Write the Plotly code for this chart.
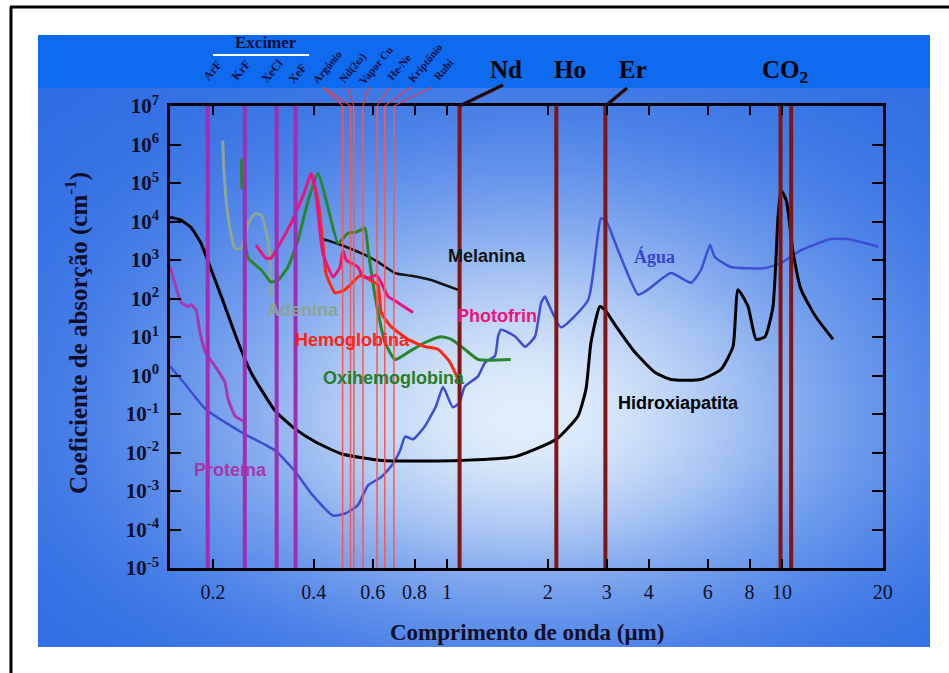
import base64, struct, zlib
import numpy as np
import plotly.graph_objects as go

# ---------------- data ----------------
agua_x = [0.147, 0.161, 0.190, 0.249, 0.307, 0.352, 0.393, 0.457, 0.497, 0.542, 0.581, 0.636,
          0.690, 0.724, 0.750, 0.792, 0.860, 0.927, 0.973, 1.04, 1.09, 1.13, 1.237, 1.30, 1.39,
          1.42, 1.45, 1.60, 1.71, 1.83, 1.91, 1.96, 2.00, 2.19, 2.64, 2.88, 2.98, 3.24, 3.72,
          3.98, 4.66, 5.35, 5.73, 6.10, 6.3, 7.04, 8.90, 9.93, 11.4, 14.0, 15.7, 19.4]
agua_y = [1.95, 0.79, 0.135, 0.030, 0.0112, 0.0032, 8.7e-4, 2.3e-4, 2.6e-4, 4.3e-4, 1.4e-3, 2.3e-3,
          5.1e-3, 0.0112, 0.026, 0.022, 0.049, 0.16, 0.50, 0.15, 0.20, 0.52, 0.95, 2.2, 3.2,
          10.2, 15.5, 10.2, 5.6, 10.2, 78, 112, 78, 17.8, 93, 1.2e4, 1.07e4, 1.8e3, 126,
          170, 457, 257, 550, 2.45e3, 1.2e3, 660, 617, 832, 1.8e3, 3.5e3, 3.5e3, 2.2e3]

hidrox_x = [0.149, 0.160, 0.172, 0.184, 0.190, 0.212, 0.238, 0.260, 0.307, 0.352, 0.404, 0.483,
            0.636, 1.09, 1.60, 2.12, 2.46, 2.60, 2.69, 2.86, 2.96, 3.17, 3.64, 4.18, 4.66, 5.73,
            6.58, 7.14, 7.39, 7.92, 8.37, 8.90, 9.40, 9.73, 9.93, 10.3, 10.8, 11.4, 12.6, 14.2]
hidrox_y = [1.29e4, 1.1e4, 7.0e3, 2.8e3, 1.4e3, 112, 7.2, 1.2, 0.12, 0.041, 0.019, 9.3e-3,
            6.2e-3, 6.2e-3, 7.8e-3, 0.022, 0.089, 0.45, 7.2, 62, 51, 21, 4.0, 1.2, 0.79, 0.79,
            1.45, 5.6, 170, 62, 8.7, 10.2, 62, 1.29e4, 6.5e4, 3.5e4, 1.5e3, 170, 34, 8.7]

melanina_x = [0.426, 0.483, 0.569, 0.622, 0.700, 0.781, 0.896, 0.986, 1.10]
melanina_y = [3.5e3, 2.45e3, 1.35e3, 890, 457, 389, 302, 224, 158]

photofrin_x = [0.269, 0.288, 0.298, 0.313, 0.342, 0.377, 0.393, 0.404, 0.418, 0.426, 0.457, 0.479,
               0.489, 0.500, 0.517, 0.542, 0.561, 0.589, 0.614, 0.636, 0.667, 0.714, 0.792]
photofrin_y = [2.45e3, 1.12e3, 1.12e3, 2.2e3, 8.9e3, 6.5e4, 1.8e5, 7.6e4, 5.0e3, 1.5e3, 363, 660,
               1.8e3, 1.0e3, 832, 660, 363, 347, 407, 257, 112, 78, 43]

hemo_x = [0.393, 0.412, 0.426, 0.435, 0.463, 0.496, 0.554, 0.589, 0.622, 0.636, 0.681, 0.765,
          0.860, 0.940, 1.02, 1.08]
hemo_y = [1.8e5, 3.5e4, 2.75e3, 457, 141, 170, 407, 302, 224, 43, 18.6, 8.7, 5.6, 4.8, 2.2, 0.79]

oxi_x = [0.243, 0.244, None, 0.249, 0.255, 0.279, 0.298, 0.313, 0.335, 0.359, 0.385, 0.412, 0.441,
         0.473, 0.506, 0.531, 0.550, 0.569, 0.581, 0.610, 0.653, 0.700, 0.765, 0.860, 0.959,
         1.03, 1.13, 1.24, 1.55]
oxi_y = [4.3e5, 7.0e4, None, 3.3e3, 1.12e3, 550, 269, 302, 660, 3.3e3, 3.5e4, 1.8e5, 2.3e4,
         2.75e3, 5.0e3, 5.2e3, 5.9e3, 6.8e3, 1.8e3, 112, 7.2, 2.6, 4.0, 7.2, 10.2, 8.7, 4.8,
         2.6, 2.6]

adenina_x = [0.214, 0.216, 0.222, 0.233, 0.243, 0.255, 0.267, 0.279, 0.288, 0.296, 0.298, 0.298]
adenina_y = [1.26e6, 1.8e5, 1.29e4, 2.0e3, 2.0e3, 8.9e3, 1.6e4, 1.45e4, 5.9e3, 1.2e3, 257, 110]

proteina_x = [0.149, 0.152, 0.161, 0.169, 0.172, 0.178, 0.183, 0.190, 0.203, 0.217, 0.222, 0.233, 0.246]
proteina_y = [660, 363, 78, 62, 69, 51, 13.2, 4.0, 1.74, 0.68, 0.245, 0.089, 0.066]

excimer_wl = [0.193, 0.249, 0.310, 0.353]
excimer_names = ["ArF", "KrF", "XeCl", "XeF"]
visible_wl = [0.488, 0.515, 0.527, 0.561, 0.618, 0.652, 0.694]
visible_names = ["Argônio", "Nd(2ω)", "Vapor Cu", "He-Ne", "Kriptônio", "Rubi"]
ir_wl = [1.09, 2.12, 2.97, 9.9, 10.65]

x_tickvals = [0.2, 0.4, 0.6, 0.8, 1, 2, 3, 4, 6, 8, 10, 20]
x_ticktext = ["0.2", "0.4", "0.6", "0.8", "1", "2", "3", "4", "6", "8", "10", "20"]
y_exponents = list(range(-5, 8))

# ---------------- geometry helpers ----------------
W, H = 949, 673
L, R, T, B = 170, 66, 106, 105
PW, PH = W - L - R, H - T - B
XMIN, XMAX = -0.827, 1.3015


def px(xp):
    return (xp - L) / PW


def py(yp):
    return (H - B - yp) / PH


def wl2paper(w):
    return (np.log10(w) - XMIN) / (XMAX - XMIN)


# ---------------- background gradient image ----------------
def png_uri(arr):
    h, w, _ = arr.shape
    raw = b"".join(b"\x00" + arr[i].tobytes() for i in range(h))

    def chunk(t, d):
        c = struct.pack(">I", len(d)) + t + d
        return c + struct.pack(">I", zlib.crc32(t + d) & 0xFFFFFFFF)

    data = (b"\x89PNG\r\n\x1a\n" + chunk(b"IHDR", struct.pack(">IIBBBBB", w, h, 8, 2, 0, 0, 0))
            + chunk(b"IDAT", zlib.compress(raw, 9)) + chunk(b"IEND", b""))
    return "data:image/png;base64," + base64.b64encode(data).decode()


PX0, PY0, PX1, PY1 = 38, 35, 930, 647
GW, GH = 223, 153
gxs = PX0 + (np.arange(GW) + 0.5) * (PX1 - PX0) / GW
gys = PY0 + (np.arange(GH) + 0.5) * (PY1 - PY0) / GH
gx, gy = np.meshgrid(gxs, gys)
sy = np.where(gy < 420, 230, 185)
f = np.exp(-(((gx - 525) / 330) ** 2 + ((gy - 420) / sy) ** 2))
edge = np.array([45, 108, 228], dtype=float)
light = np.array([225, 238, 251], dtype=float)
img = (edge + (light - edge) * f[..., None]).clip(0, 255).astype(np.uint8)
bg_uri = png_uri(img)

# ---------------- figure ----------------
fig = go.Figure()

curves = [
    (agua_x, agua_y, "rgb(62,78,212)", 2.5),
    (hidrox_x, hidrox_y, "black", 3),
    (melanina_x, melanina_y, "rgb(20,20,20)", 2.5),
    (adenina_x, adenina_y, "rgb(140,165,150)", 3),
    (proteina_x, proteina_y, "rgb(170,55,175)", 3),
    (oxi_x, oxi_y, "rgb(40,135,45)", 3),
    (hemo_x, hemo_y, "rgb(255,40,20)", 3),
    (photofrin_x, photofrin_y, "rgb(235,20,120)", 3),
]
for xs_, ys_, col, wdt in curves:
    fig.add_trace(go.Scatter(x=xs_, y=ys_, mode="lines", connectgaps=False,
                             line=dict(color=col, width=wdt, shape="spline", smoothing=0.5),
                             hoverinfo="skip"))

for w in excimer_wl:
    fig.add_trace(go.Scatter(x=[w, w], y=[1e-5, 1e7], mode="lines",
                             line=dict(color="rgb(160,45,180)", width=4), hoverinfo="skip"))
for w in visible_wl:
    fig.add_trace(go.Scatter(x=[w, w], y=[1e-5, 1e7], mode="lines",
                             line=dict(color="rgb(255,85,80)", width=1.5), hoverinfo="skip"))
for w in ir_wl:
    fig.add_trace(go.Scatter(x=[w, w], y=[1e-5, 1e7], mode="lines",
                             line=dict(color="rgb(130,20,20)", width=4), hoverinfo="skip"))

shapes = []
# top band
shapes.append(dict(type="rect", xref="paper", yref="paper", x0=px(PX0), x1=px(PX1),
                   y0=py(88), y1=py(PY0), fillcolor="rgb(14,106,238)", line=dict(width=0),
                   layer="below"))
# outer frame
shapes.append(dict(type="line", xref="paper", yref="paper", x0=px(10), x1=px(949),
                   y0=py(7), y1=py(7), line=dict(color="black", width=3)))
shapes.append(dict(type="line", xref="paper", yref="paper", x0=px(11), x1=px(11),
                   y0=py(7), y1=py(673), line=dict(color="black", width=3)))
# Excimer underline
shapes.append(dict(type="line", xref="paper", yref="paper", x0=px(213), x1=px(309),
                   y0=py(55), y1=py(55), line=dict(color="white", width=2)))
# connectors from visible laser labels
vis_label_ends = [323, 323, 347, 369, 390, 411, 432]
for w, xe in zip(visible_wl, vis_label_ends):
    shapes.append(dict(type="line", xref="paper", yref="paper", x0=wl2paper(w), y0=1,
                       x1=px(xe), y1=py(87), line=dict(color="rgb(230,60,70)", width=1.2)))
# Nd and Er connectors
shapes.append(dict(type="line", xref="paper", yref="paper", x0=wl2paper(ir_wl[0]), y0=1,
                   x1=px(503), y1=py(85), line=dict(color="rgb(40,10,10)", width=3.5)))
shapes.append(dict(type="line", xref="paper", yref="paper", x0=wl2paper(ir_wl[2]), y0=1,
                   x1=px(627), y1=py(88), line=dict(color="rgb(40,10,10)", width=3.5)))

ann = []
SERIF = "Liberation Serif"
SANS = "Liberation Sans"
navy = "rgb(15,15,60)"


def label(x, y, text, size, color, family, weight="bold", angle=0):
    ann.append(dict(x=px(x), y=py(y), xref="paper", yref="paper", text=text, showarrow=False,
                    textangle=angle, xanchor="center", yanchor="middle",
                    font=dict(family=family, size=size, color=color, weight=weight)))


label(266, 43, "Excimer", 17, navy, SERIF)
for (xx, yy), t in zip([(212, 71), (241, 70), (272, 71), (297, 74)], excimer_names):
    label(xx, yy, t, 12, navy, SERIF, angle=-50)
for (xx, yy), t in zip([(327, 67), (352, 68), (376, 65), (399, 67), (425, 63), (443, 70)],
                       visible_names):
    label(xx, yy, t, 11, navy, SERIF, angle=-50)
label(506, 70, "Nd", 25, "black", SERIF)
label(570, 70, "Ho", 25, "black", SERIF)
label(633, 70, "Er", 25, "black", SERIF)
label(785, 72, "CO<sub>2</sub>", 25, "black", SERIF)

label(487, 256, "Melanina", 18, "rgb(20,20,20)", SANS)
label(654, 256, "Água", 18, "rgb(55,70,200)", SERIF)
label(497, 316, "Photofrin", 18, "rgb(235,20,120)", SANS)
label(303, 310, "Adenina", 18, "rgb(140,165,150)", SANS)
label(352, 340, "Hemoglobina", 18, "rgb(255,35,20)", SANS)
label(394, 378, "Oxihemoglobina", 18, "rgb(40,125,40)", SANS)
label(678, 403, "Hidroxiapatita", 18, "black", SANS)
label(230, 470, "Proteína", 18, "rgb(165,55,170)", SANS)

label(527, 632, "Comprimento de onda (μm)", 23, "rgb(15,15,40)", SERIF)
ann.append(dict(x=px(76), y=py(333), xref="paper", yref="paper",
                text="Coeficiente de absorção (cm<sup>-1</sup>)", showarrow=False, textangle=-90,
                xanchor="center", yanchor="middle",
                font=dict(family=SERIF, size=25, color="rgb(15,15,40)", weight="bold")))

fig.update_layout(
    width=W, height=H, margin=dict(l=L, r=R, t=T, b=B, pad=0),
    paper_bgcolor="white", plot_bgcolor="rgba(0,0,0,0)", showlegend=False,
    shapes=shapes, annotations=ann,
    images=[dict(source=bg_uri, xref="paper", yref="paper", x=px(PX0), y=py(PY0),
                 sizex=(PX1 - PX0) / PW, sizey=(PY1 - PY0) / PH, sizing="stretch",
                 xanchor="left", yanchor="top", layer="below")],
)
fig.update_xaxes(type="log", range=[XMIN, XMAX], tickvals=x_tickvals, ticktext=x_ticktext,
                 showgrid=False, zeroline=False, showline=True, linecolor="black", linewidth=2.5,
                 mirror="ticks", ticks="inside", ticklen=9, tickwidth=2, tickcolor="black",
                 ticklabelstandoff=4,
                 tickfont=dict(family=SERIF, size=20, color="rgb(15,15,40)"))
fig.update_yaxes(type="log", range=[-5, 7], tickvals=[10.0 ** e for e in y_exponents],
                 ticktext=[f"10<sup>{e}</sup>" for e in y_exponents],
                 showgrid=False, zeroline=False, showline=True, linecolor="black", linewidth=2.5,
                 mirror="ticks", ticks="inside", ticklen=11, tickwidth=2, tickcolor="black",
                 ticklabelstandoff=4,
                 tickfont=dict(family=SERIF, size=21, color="rgb(15,15,40)", weight="bold"))

fig.write_html("out.html", config={"displayModeBar": False},
               post_script="document.body.style.margin='0px';")
